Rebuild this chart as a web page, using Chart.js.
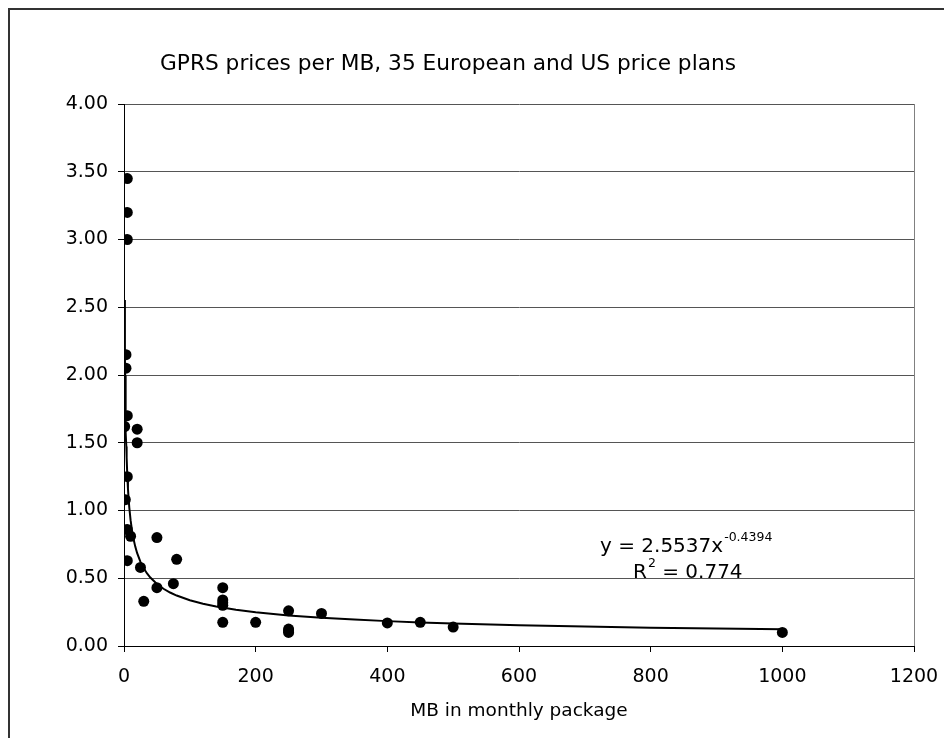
<!DOCTYPE html>
<html><head><meta charset="utf-8">
<script src="https://cdn.jsdelivr.net/npm/chart.js@4/dist/chart.umd.min.js"></script>
<style>html,body{margin:0;padding:0;background:#fff;}canvas{display:block;}</style>
</head><body>
<canvas id="c" width="944" height="738"></canvas>
<script>
const chartTitle = 'GPRS prices per MB, 35 European and US price plans';
const xAxisTitle = 'MB in monthly package';
const mbPackage = [5,5,5,3,3,5,1,20,20,5, 2,5,10,50,5,80,25,50,75,30, 150,150,150,150,150, 200, 250,250,250,250, 300,400,450,500,1000];
const pricePerMB = [3.45,3.20,3.00,2.15,2.05,1.70,1.62,1.60,1.50,1.25, 1.08,0.86,0.81,0.80,0.63,0.64,0.58,0.43,0.46,0.33, 0.43,0.34,0.32,0.30,0.175, 0.175, 0.26,0.125,0.11,0.10, 0.24,0.17,0.175,0.14,0.10];
const xTickValues = [0,200,400,600,800,1000,1200];
const yTickValues = [0,0.5,1,1.5,2,2.5,3,3.5,4];
const trendCoefA = 2.5537;
const trendExpB = -0.4394;
const trendR2Text = '0.774';
const trendSampleX = [1,1.25,1.5,1.75,2,2.5,3,3.5,4,5,6,7,8,10,12,14,17,20,25,30,35,40,50,60,70,80,100,120,140,170,200,250,300,350,400,450,500,600,700,800,900,1000];

const FONT = '"DejaVu Sans", Verdana, sans-serif';
const points = mbPackage.map((x,i)=>({x:x, y:pricePerMB[i]}));
const trend = trendSampleX.map(x=>({x:x, y:trendCoefA*Math.pow(x,trendExpB)}));

const decor = {
  id:'decor',
  beforeDraw(chart){
    const ctx = chart.ctx;
    ctx.save();
    ctx.fillStyle='#fff';
    ctx.fillRect(0,0,chart.width,chart.height);
    ctx.restore();
  },
  afterDraw(chart){
    const ctx = chart.ctx, a = chart.chartArea;
    ctx.save();
    // outer frame
    ctx.strokeStyle='#333'; ctx.lineWidth=2;
    ctx.strokeRect(9,9,980,780);
    // plot right border
    ctx.strokeStyle='#808080'; ctx.lineWidth=1;
    ctx.beginPath(); ctx.moveTo(Math.round(a.right)+0.5,a.top); ctx.lineTo(Math.round(a.right)+0.5,a.bottom); ctx.stroke();
    // title
    ctx.fillStyle='#000';
    ctx.font='21.7px '+FONT;
    ctx.textAlign='center'; ctx.textBaseline='alphabetic';
    ctx.fillText(chartTitle,448,70);
    // equation
    ctx.textAlign='left';
    ctx.font='20px '+FONT;
    const s1='y = 2.5537x';
    ctx.fillText(s1,600,552);
    let w=ctx.measureText(s1).width;
    ctx.font='12.5px '+FONT;
    ctx.fillText(String(trendExpB),601+w,541);
    ctx.font='20px '+FONT;
    ctx.fillText('R',633,578);
    let wr=ctx.measureText('R').width;
    ctx.font='12.5px '+FONT;
    ctx.fillText('2',634+wr,567);
    let w2=ctx.measureText('2').width;
    ctx.font='20px '+FONT;
    ctx.fillText(' = '+trendR2Text,634+wr+w2,578);
    ctx.restore();
  }
};

new Chart(document.getElementById('c'),{
  type:'scatter',
  data:{datasets:[
    {type:'line', data:trend, showLine:true, pointRadius:0, borderColor:'#000', borderWidth:2, tension:0, fill:false, order:2},
    {data:points, pointRadius:5.5, pointHoverRadius:5.5, backgroundColor:'#000', borderColor:'#000', borderWidth:0, order:1}
  ]},
  options:{
    responsive:false, animation:false, devicePixelRatio:1,
    layout:{padding:{left:0,top:104,right:30,bottom:0}},
    plugins:{legend:{display:false}, tooltip:{enabled:false}, title:{display:false}},
    scales:{
      x:{type:'linear', min:0, max:1200,
        afterBuildTicks(s){ s.ticks = xTickValues.map(v=>({value:v})); },
        afterFit(s){ s.height = 92; s.paddingLeft = 0; s.paddingRight = 0; },
        grid:{drawOnChartArea:false, drawTicks:true, tickLength:6, color:'#000', tickColor:'#000'},
        border:{color:'#000', width:1},
        ticks:{color:'#000', font:{family:FONT, size:19}, padding:14, maxRotation:0, callback:v=>String(v)},
        title:{display:true, text:xAxisTitle, color:'#000', font:{family:FONT, size:18.5}, padding:{top:0,bottom:16}}
      },
      y:{type:'linear', min:0, max:4,
        afterBuildTicks(s){ s.ticks = yTickValues.map(v=>({value:v})); },
        afterFit(s){ s.width = 124; s.paddingTop = 0; s.paddingBottom = 0; },
        grid:{drawOnChartArea:true, drawTicks:true, tickLength:6, color:'#555', tickColor:'#000'},
        border:{color:'#000', width:1},
        ticks:{color:'#000', font:{family:FONT, size:19}, padding:10, callback:v=>Number(v).toFixed(2)}
      }
    }
  },
  plugins:[decor]
});
</script>
</body></html>
